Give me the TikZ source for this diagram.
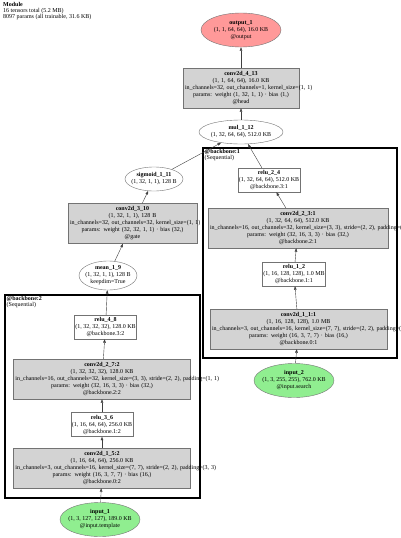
\documentclass[tikz,border=0pt]{standalone}
\usepackage{fontspec}
\setmainfont{Liberation Serif}
\usepackage{xcolor}
\usetikzlibrary{positioning, arrows.meta, shapes.geometric}

\definecolor{opgray}{HTML}{D3D3D3}
\definecolor{outred}{HTML}{FF9999}
\definecolor{ingreen}{HTML}{90EE90}
\newcommand{\wideline}[1]{\makebox[\hsize][l]{#1}}

\begin{document}
\begin{tikzpicture}[
    x=1pt, y=-1pt,
    every node/.style={font=\fontsize{6}{7}\selectfont},
    opbox/.style={rectangle, draw=black!55, fill=opgray, line width=0.4pt, inner xsep=2pt, inner ysep=1pt, minimum height=40, align=center},
    actbox/.style={rectangle, draw=black!55, fill=white, line width=0.4pt, inner xsep=1pt, inner ysep=1pt, minimum height=24, align=center},
    fnnode/.style={ellipse, draw=black!55, fill=white, line width=0.4pt, inner xsep=-4pt, inner ysep=0pt, align=center},
    ionode/.style={fnnode, minimum width=80, minimum height=34},
    cluster/.style={rectangle, draw=black, line width=1.6pt, inner sep=0pt, anchor=north west},
    clabel/.style={anchor=north west, inner sep=0pt, align=left, font=\fontsize{6}{6}\selectfont},
    arrow/.style={-{Triangle[length=3.5pt, width=2.6pt]}, draw=black!75, line width=0.4pt}
]
\useasboundingbox (0,0) rectangle (400,538);

\node[clabel] (title) at (3,2) {\textbf{Module}\\16 tensors total (5.2 MB)\\8097 params (all trainable, 31.6 KB)};

% head of the network
\node[ionode, fill=outred] (output) at (241,30) {\textbf{output\_1}\\(1, 1, 64, 64), 16.0 KB\\@output};
\node[opbox, text width=112] (head) at (241,88) {\textbf{conv2d\_4\_13}\\(1, 1, 64, 64), 16.0 KB\\\wideline{in\_channels=32, out\_channels=1, kernel\_size=(1, 1)}\\params: weight (1, 32, 1, 1) · bias (1,)\\@head};
\node[fnnode, minimum width=84, minimum height=24] (mul) at (241,132) {\textbf{mul\_1\_12}\\(1, 32, 64, 64), 512.0 KB};
\node[fnnode, minimum width=58, minimum height=24] (sigmoid) at (154,179) {\textbf{sigmoid\_1\_11}\\(1, 32, 1, 1), 128 B};
\node[opbox, text width=125] (gate) at (132.5,223.5) {\textbf{conv2d\_3\_10}\\(1, 32, 1, 1), 128 B\\\wideline{in\_channels=32, out\_channels=32, kernel\_size=(1, 1)}\\params: weight (32, 32, 1, 1) · bias (32,)\\@gate};
\node[fnnode, minimum width=58, minimum height=29] (mean) at (108,275.5) {\textbf{mean\_1\_9}\\(1, 32, 1, 1), 128 B\\keepdim=True};

% template branch
\node[cluster, minimum width=195, minimum height=203] (bbtwo) at (4,294) {};
\node[clabel] (bbtwolabel) at ([xshift=2.5pt, yshift=-2.5pt]bbtwo.north west) {\textbf{@backbone:2}\\(Sequential)};
\node[actbox] (trelu3) at (105.5,327) {\textbf{relu\_4\_8}\\(1, 32, 32, 32), 128.0 KB\\@backbone.3:2};
\node[opbox, text width=173] (tconv2) at (102,379) {\textbf{conv2d\_2\_7:2}\\(1, 32, 32, 32), 128.0 KB\\\wideline{in\_channels=16, out\_channels=32, kernel\_size=(3, 3), stride=(2, 2), padding=(1, 1)}\\params: weight (32, 16, 3, 3) · bias (32,)\\@backbone.2:2};
\node[actbox] (trelu1) at (102,424.5) {\textbf{relu\_3\_6}\\(1, 16, 64, 64), 256.0 KB\\@backbone.1:2};
\node[opbox, text width=173] (tconv0) at (102,468) {\textbf{conv2d\_1\_5:2}\\(1, 16, 64, 64), 256.0 KB\\\wideline{in\_channels=3, out\_channels=16, kernel\_size=(7, 7), stride=(2, 2), padding=(3, 3)}\\params: weight (16, 3, 7, 7) · bias (16,)\\@backbone.0:2};
\node[ionode, fill=ingreen] (template) at (100,519.5) {\textbf{input\_1}\\(1, 3, 127, 127), 189.0 KB\\@input.template};

% search branch
\node[cluster, minimum width=194, minimum height=210] (bbone) at (202,147) {};
\node[clabel] (bbonelabel) at ([xshift=2.5pt, yshift=-2.5pt]bbone.north west) {\textbf{@backbone:1}\\(Sequential)};
\node[actbox] (srelu3) at (269,180) {\textbf{relu\_2\_4}\\(1, 32, 64, 64), 512.0 KB\\@backbone.3:1};
\node[opbox, text width=176] (sconv2) at (298,228) {\textbf{conv2d\_2\_3:1}\\(1, 32, 64, 64), 512.0 KB\\\wideline{in\_channels=16, out\_channels=32, kernel\_size=(3, 3), stride=(2, 2), padding=(1, 1)}\\params: weight (32, 16, 3, 3) · bias (32,)\\@backbone.2:1};
\node[actbox] (srelu1) at (294,274) {\textbf{relu\_1\_2}\\(1, 16, 128, 128), 1.0 MB\\@backbone.1:1};
\node[opbox, text width=173] (sconv0) at (298.5,329) {\textbf{conv2d\_1\_1:1}\\(1, 16, 128, 128), 1.0 MB\\\wideline{in\_channels=3, out\_channels=16, kernel\_size=(7, 7), stride=(2, 2), padding=(3, 3)}\\params: weight (16, 3, 7, 7) · bias (16,)\\@backbone.0:1};
\node[ionode, fill=ingreen] (search) at (294,380.5) {\textbf{input\_2}\\(1, 3, 255, 255), 762.0 KB\\@input.search};

\draw[arrow] (template) -- (tconv0);
\draw[arrow] (tconv0) -- (trelu1);
\draw[arrow] (trelu1) -- (tconv2);
\draw[arrow] (tconv2) -- (trelu3);
\draw[arrow] (trelu3) -- (mean);
\draw[arrow] (mean) -- (gate);
\draw[arrow] (gate) -- (sigmoid);
\draw[arrow] (sigmoid) -- (mul);
\draw[arrow] (search) -- (sconv0);
\draw[arrow] (sconv0) -- (srelu1);
\draw[arrow] (srelu1) -- (sconv2);
\draw[arrow] (sconv2) -- (srelu3);
\draw[arrow] (srelu3) -- (mul);
\draw[arrow] (mul) -- (head);
\draw[arrow] (head) -- (output);

\end{tikzpicture}
\end{document}
